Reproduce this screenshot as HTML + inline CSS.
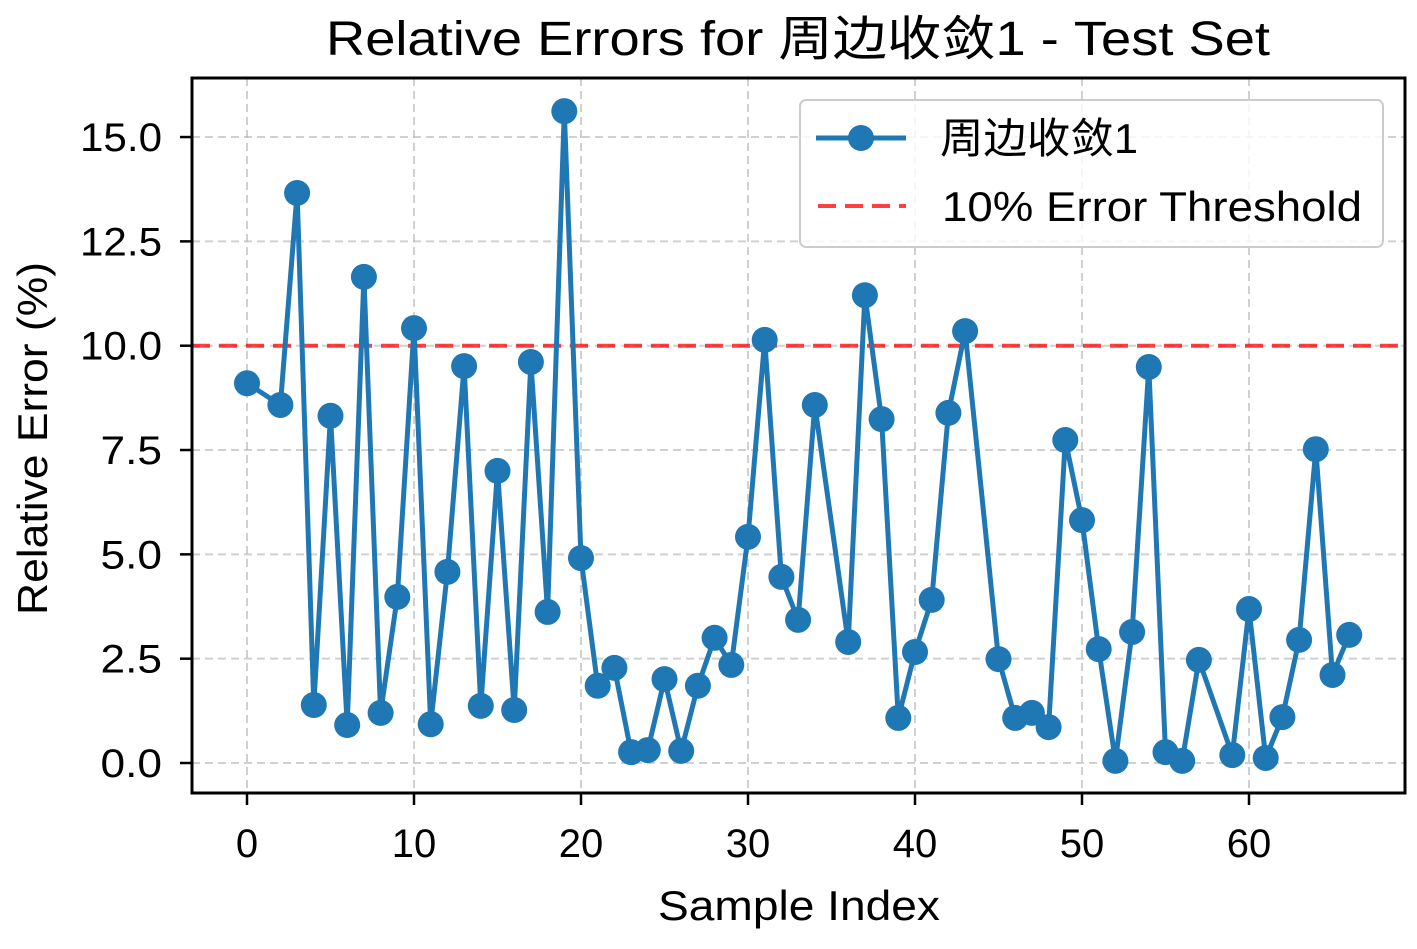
<!DOCTYPE html>
<html><head><meta charset="utf-8"><style>
body{margin:0;background:#fff;}
svg text{font-family:"Liberation Sans","Noto Sans CJK SC",sans-serif;fill:#000;}
</style></head><body>
<svg id="chart" width="1417" height="944" xmlns="http://www.w3.org/2000/svg">
<text x="326" y="55" font-size="48" textLength="944" lengthAdjust="spacingAndGlyphs">Relative Errors for 周边收敛1 - Test Set</text>
<g id="grid"></g>
<line id="thr" x1="192" x2="1405" stroke="#ff0000" stroke-opacity="0.75" stroke-width="4" stroke-dasharray="18,9"/>
<g id="series"></g>
<rect x="192" y="78" width="1213" height="715" fill="none" stroke="#000" stroke-width="3"/>
<g id="ticks"></g>
<text x="658" y="920" font-size="42" textLength="282" lengthAdjust="spacingAndGlyphs">Sample Index</text>
<text transform="translate(47,615) rotate(-90)" font-size="42" textLength="353" lengthAdjust="spacingAndGlyphs">Relative Error (%)</text>
<g>
<rect x="800" y="100" width="583" height="147" rx="6" fill="#fff" fill-opacity="0.8" stroke="#ccc" stroke-width="2"/>
<line x1="816" x2="906" y1="138" y2="138" stroke="#1f77b4" stroke-width="5"/>
<circle cx="861" cy="138" r="13" fill="#1f77b4"/>
<text x="940" y="153" font-size="42" textLength="198" lengthAdjust="spacingAndGlyphs">周边收敛1</text>
<line x1="818" x2="906" y1="206" y2="206" stroke="#ff0000" stroke-opacity="0.75" stroke-width="4" stroke-dasharray="18,9"/>
<text x="942" y="221" font-size="42" textLength="420" lengthAdjust="spacingAndGlyphs">10% Error Threshold</text>
</g>
</svg>
<script>
const sampleIdx=[0,2,3,4,5,6,7,8,9,10,11,12,13,14,15,16,17,18,19,20,21,22,23,24,25,26,27,28,29,30,31,32,33,34,36,37,38,39,40,41,42,43,45,46,47,48,49,50,51,52,53,54,55,56,57,59,60,61,62,63,64,65,66];
const errors=[9.1,8.58,13.66,1.39,8.32,0.91,11.65,1.2,3.98,10.42,0.93,4.58,9.51,1.37,7.0,1.27,9.61,3.62,15.62,4.91,1.85,2.28,0.26,0.31,2.01,0.29,1.85,3.0,2.35,5.42,10.14,4.46,3.43,8.58,2.9,11.21,8.24,1.08,2.66,3.91,8.39,10.35,2.49,1.08,1.2,0.86,7.74,5.82,2.73,0.05,3.14,9.49,0.26,0.05,2.47,0.19,3.69,0.12,1.1,2.95,7.52,2.11,3.07];
const xTicks=[0,10,20,30,40,50,60];
const yTicks=[0,2.5,5,7.5,10,12.5,15];
const threshold=10;
const X=v=>247+v*16.7, Y=v=>763-v*41.73;
const NS="http://www.w3.org/2000/svg";
function mk(tag,attrs,parent){const e=document.createElementNS(NS,tag);for(const k in attrs)e.setAttribute(k,attrs[k]);parent.appendChild(e);return e;}
const grid=document.getElementById('grid'),ticks=document.getElementById('ticks'),series=document.getElementById('series');
xTicks.forEach(t=>{
 const g=mk('line',{x1:X(t),x2:X(t),y1:78,y2:793,stroke:'#b0b0b0','stroke-opacity':0.6,'stroke-width':2,'stroke-dasharray':'8,5'},grid);
 
 mk('line',{x1:X(t),x2:X(t),y1:793,y2:805,stroke:'#000','stroke-width':2.5},ticks);
 const tx=mk('text',{x:X(t),y:857,'font-size':40,'text-anchor':'middle'},ticks);tx.textContent=t;
 
});
yTicks.forEach(t=>{
 const g=mk('line',{x1:192,x2:1405,y1:Y(t),y2:Y(t),stroke:'#b0b0b0','stroke-opacity':0.6,'stroke-width':2,'stroke-dasharray':'8,5'},grid);
 
 mk('line',{x1:180,x2:192,y1:Y(t),y2:Y(t),stroke:'#000','stroke-width':2.5},ticks);
 const lbl=t.toFixed(1);
 const tx=mk('text',{x:162,y:Y(t)+14,'font-size':40,'text-anchor':'end',textLength:lbl.length*20.5,lengthAdjust:'spacingAndGlyphs'},ticks);tx.textContent=lbl;
 
});
const thr=document.getElementById('thr');thr.setAttribute('y1',Y(threshold));thr.setAttribute('y2',Y(threshold));
const pl=mk('polyline',{points:sampleIdx.map((s,i)=>X(s)+','+Y(errors[i])).join(' '),fill:'none',stroke:'#1f77b4','stroke-width':5,'stroke-linejoin':'round'},series);

sampleIdx.forEach((s,i)=>{
 const c=mk('circle',{cx:X(s),cy:Y(errors[i]),r:13,fill:'#1f77b4'},series);
 
});
</script>
</body></html>
